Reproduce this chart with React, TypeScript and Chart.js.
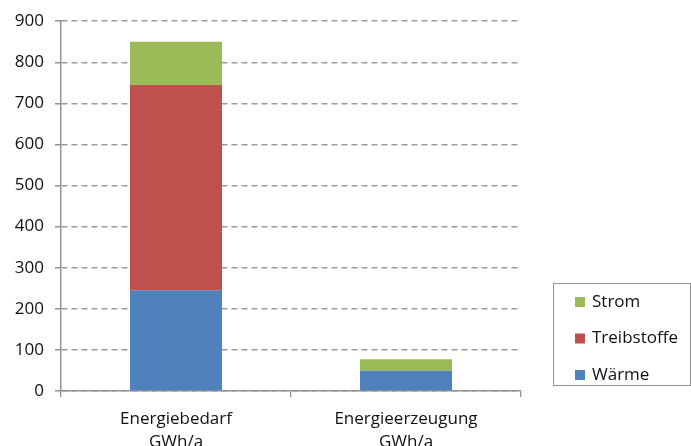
import React, { useEffect, useRef } from "react";
import { Chart, registerables } from "chart.js";

Chart.register(...registerables);

const categories: string[][] = [["Energiebedarf", "GWh/a"], ["Energieerzeugung", "GWh/a"]];
const waerme = [245, 49];
const treibstoffe = [500, 0];
const strom = [105, 28];
const seriesNames = ["Wärme", "Treibstoffe", "Strom"];
const seriesColors = ["#4F81BD", "#C0504D", "#9BBB59"];
const yMax = 900;
const yStep = 100;

const FONT = "'Open Sans', sans-serif";
const TEXT = "#111111";
const AXIS = "#929292";

const legendBox = {
  id: "legendBox",
  afterDraw(chart: any) {
    const ctx = chart.ctx;
    const area = chart.chartArea;
    const x0 = area.right + 32.5;
    const y0 = 283.5;
    const w = 137;
    const h = 102;
    ctx.save();
    ctx.strokeStyle = AXIS;
    ctx.lineWidth = 1;
    ctx.strokeRect(x0, y0, w, h);
    const ds = chart.data.datasets.slice().reverse();
    ctx.font = `17px ${FONT}`;
    ctx.textBaseline = "middle";
    ctx.textAlign = "left";
    ds.forEach((d: any, i: number) => {
      const cy = y0 + 18.5 + i * 36.5;
      ctx.fillStyle = d.backgroundColor;
      ctx.fillRect(x0 + 21.5, cy - 5, 10, 10);
      ctx.fillStyle = TEXT;
      ctx.fillText(d.label, x0 + 38.5, cy);
    });
    ctx.restore();
  },
};

export default function App() {
  const ref = useRef<HTMLCanvasElement | null>(null);
  useEffect(() => {
    if (!ref.current) return;
    const values = [waerme, treibstoffe, strom];
    const chart = new Chart(ref.current, {
      type: "bar",
      data: {
        labels: categories,
        datasets: values.map((v, i) => ({
          label: seriesNames[i],
          data: v,
          backgroundColor: seriesColors[i],
          borderWidth: 0,
          categoryPercentage: 0.4,
          barPercentage: 1,
        })),
      },
      options: {
        responsive: false,
        animation: false,
        layout: { padding: { top: 13, right: 170, left: 0, bottom: 0 } },
        plugins: { legend: { display: false }, tooltip: { enabled: false } },
        scales: {
          x: {
            stacked: true,
            grid: {
              offset: true,
              drawOnChartArea: false,
              drawTicks: true,
              tickLength: 6,
              color: AXIS,
              lineWidth: 1.3,
            },
            border: { color: AXIS, width: 1.5 },
            ticks: {
              color: TEXT,
              font: { family: FONT, size: 17, lineHeight: 1.35 },
              padding: 11,
              maxRotation: 0,
            },
            afterFit(scale: any) {
              scale.height = 55;
            },
          },
          y: {
            stacked: true,
            min: 0,
            max: yMax,
            ticks: {
              stepSize: yStep,
              color: TEXT,
              font: { family: FONT, size: 17 },
              padding: 11,
            },
            grid: {
              color: "#9c9c9c",
              tickColor: AXIS,
              tickLength: 6,
              lineWidth: 1.5,
            },
            border: { color: AXIS, width: 1.5, dash: [6, 4] },
            afterFit(scale: any) {
              scale.width = 61;
            },
          },
        },
      },
      plugins: [legendBox],
    });
    return () => chart.destroy();
  }, []);
  return (
    <div style={{ position: "absolute", left: 0, top: 0, width: 691, height: 446, background: "#fff" }}>
      <canvas ref={ref} width={691} height={446} style={{ display: "block" }} />
    </div>
  );
}
